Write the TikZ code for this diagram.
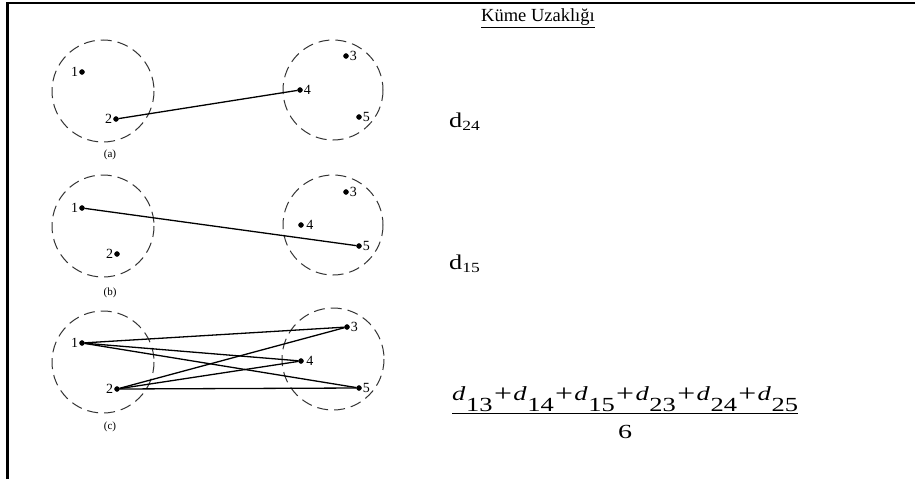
\documentclass[tikz,border=0pt]{standalone}
\usepackage{fontspec}
\usepackage{graphicx}
\setmainfont{Liberation Serif}
\newcommand{\dterm}[1]{\textit{d}\kern0.5pt\raisebox{-11pt}{#1}}
\newcommand{\plussep}{\kern1pt{\fontsize{24}{24}\selectfont\raisebox{-1.5pt}{+}}\kern1pt}
\begin{document}
\begin{tikzpicture}[x=1pt, y=-1pt,
		dot/.style={circle, fill=black, draw=black, inner sep=0pt, minimum size=5pt},
		grp/.style={black!80, line width=1pt, dash pattern=on 11pt off 6pt},
		link/.style={line width=1.3pt},
		num/.style={font=\fontsize{14}{14}\selectfont, inner sep=0.5pt, label distance=0.5pt},
		tag/.style={font=\fontsize{11}{11}\selectfont, inner sep=0pt}]
		\useasboundingbox (0, 0) rectangle (915, 479);
		\draw [line width=2.6pt] (7.2, 479) -- (7.2, 2.8) -- (915, 2.8);

		\draw [grp] (103, 91) circle (51);
		\draw [grp] (333, 90) circle (50);
		\node [dot, label={[num]left:1}] (a1) at (82, 72) {};
		\node [dot, label={[num]left:2}] (a2) at (116, 119) {};
		\node [dot, label={[num]right:3}] (a3) at (346, 56) {};
		\node [dot, label={[num]right:4}] (a4) at (300, 90) {};
		\node [dot, label={[num]right:5}] (a5) at (359, 117) {};
		\draw [link] (a2) -- (a4);
		\node [tag] (capa) at (110, 155) {(a)};

		\draw [grp] (103, 226) circle (51);
		\draw [grp] (333, 225) circle (50);
		\node [dot, label={[num]left:1}] (b1) at (82, 208) {};
		\node [dot, label={[num]left:2}] (b2) at (117, 254) {};
		\node [dot, label={[num]right:3}] (b3) at (346, 192) {};
		\node [dot, label={[num, label distance=2pt]right:4}] (b4) at (301, 225) {};
		\node [dot, label={[num]right:5}] (b5) at (359, 246) {};
		\draw [link] (b1) -- (b5);
		\node [tag] (capb) at (110, 293) {(b)};

		\draw [grp] (103, 362) circle (51);
		\draw [grp] (333, 359) circle (51);
		\node [dot, label={[num]left:1}] (c1) at (82, 343) {};
		\node [dot, label={[num]left:2}] (c2) at (117, 389) {};
		\node [dot, label={[num]right:3}] (c3) at (347, 327) {};
		\node [dot, label={[num, label distance=2pt]right:4}] (c4) at (301, 361) {};
		\node [dot, label={[num]right:5}] (c5) at (359, 388) {};
		\draw [link] (c1) -- (c3);
		\draw [link] (c1) -- (c4);
		\draw [link] (c1) -- (c5);
		\draw [link] (c2) -- (c3);
		\draw [link] (c2) -- (c4);
		\draw [link] (c2) -- (c5);
		\node [tag] (capc) at (110, 427) {(c)};

		\node [anchor=base west, inner sep=0pt, font=\fontsize{18.5}{18.5}\selectfont] (title) at (481, 21.7) {\underline{Küme Uzaklığı}};
		\node [anchor=base west, inner sep=0pt, font=\fontsize{21}{21}\selectfont] (dab) at (449, 127) {\scalebox{1.25}[1]{d\raisebox{-3pt}{\fontsize{14}{14}\selectfont 24}}};
		\node [anchor=base west, inner sep=0pt, font=\fontsize{21}{21}\selectfont] (dcd) at (449, 269) {\scalebox{1.25}[1]{d\raisebox{-3pt}{\fontsize{14}{14}\selectfont 15}}};
		\node [anchor=base west, inner sep=0pt, font=\fontsize{20}{20}\selectfont] (sum) at (452, 400) {\resizebox{346pt}{\height}{\dterm{13}\plussep\dterm{14}\plussep\dterm{15}\plussep\dterm{23}\plussep\dterm{24}\plussep\dterm{25}}};
		\draw [line width=1pt] ([yshift=-2pt]sum.south west) -- ([yshift=-2pt]sum.south east);
		\node [anchor=base, inner sep=0pt, font=\fontsize{20}{20}\selectfont] (six) at (625, 438) {\scalebox{1.4}[1]{6}};
	\end{tikzpicture}
\end{document}
